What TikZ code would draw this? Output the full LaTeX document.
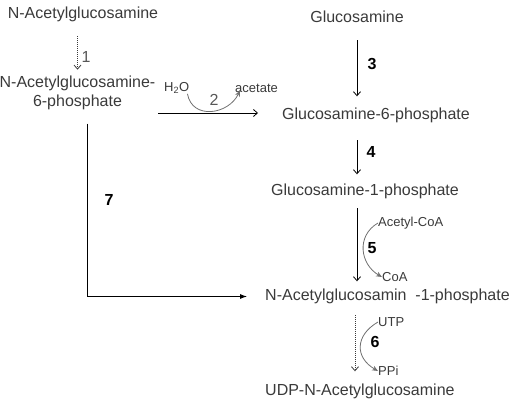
\documentclass[tikz,border=0pt]{standalone}
\usepackage{fontspec}
\setmainfont{Liberation Sans}
\usetikzlibrary{arrows.meta}
\definecolor{txtgray}{HTML}{3A3A3A}
\definecolor{curvegray}{HTML}{707070}
\tikzset{chem/.style={font=\fontsize{16}{19}\selectfont, text=txtgray, inner sep=0pt},
  compound/.style={chem, text height=11.5pt, text depth=3.5pt},
  cofactor/.style={font=\fontsize{13}{15}\selectfont, text=txtgray, inner sep=0pt, anchor=west},
  enzyme/.style={font=\fontsize{16}{18}\selectfont\bfseries, inner sep=0pt},
  weak/.style={font=\fontsize{16}{18}\selectfont, text=txtgray!85, inner sep=0pt},
  reaction/.style={-{Straight Barb[length=4pt,width=7pt]}, line width=0.8pt},
  slow/.style={reaction, draw=txtgray, dash pattern=on 1pt off 1pt},
  side/.style={-{Stealth[length=6pt,width=5pt]}, draw=curvegray, line width=0.8pt}}

\begin{document}
\begin{tikzpicture}[x=1pt,y=-1pt]
\useasboundingbox (0,0) rectangle (521,406);

% compounds
\node[compound] (glcnac) at (83,14.5) {N-Acetylglucosamine};
\node[chem, align=center] (glcnac6p) at (77.5,92.5) {N-Acetylglucosamine-\\6-phosphate};
\node[compound] (glcn) at (357,18.5) {Glucosamine};
\node[compound, anchor=west] (glcn6p) at (282,115.5) {Glucosamine-6-phosphate};
\node[compound, anchor=west] (glcn1p) at (271,191.5) {Glucosamine-1-phosphate};
\node[compound, anchor=west] (glcnac1p) at (265,296.5) {N-Acetylglucosamin\ \ -1-phosphate};
\node[compound, anchor=west] (udpglcnac) at (265,391.5) {UDP-N-Acetylglucosamine};

% cofactors
\node[cofactor] (h2o) at (164,88) {H\textsubscript{2}O};
\node[cofactor] (acetate) at (235,88) {acetate};
\node[cofactor] (acetylcoa) at (378,223) {Acetyl-CoA};
\node[cofactor] (coa) at (382,277) {CoA};
\node[cofactor] (utp) at (378,322) {UTP};
\node[cofactor] (ppi) at (378,371) {PPi};

% enzyme numbers
\node[weak] (n1) at (86,57) {1};
\node[weak] (n2) at (214,100) {2};
\node[enzyme] (n3) at (372,64) {3};
\node[enzyme] (n4) at (371,152) {4};
\node[enzyme] (n5) at (372,248) {5};
\node[enzyme] (n6) at (375,342) {6};
\node[enzyme] (n7) at (109,200) {7};

% reactions
\coordinate (s2) at (158,113);
\draw[slow, shorten <=14pt, shorten >=5.7pt] (glcnac6p.north |- glcnac.south) -- (glcnac6p.north);
\draw[reaction, shorten >=24pt] (s2) -- (s2 -| glcn6p.west);
\draw[side] ([xshift=-2pt]h2o.south east) to[out=-80,in=-115,looseness=1.3] ([xshift=5pt,yshift=2pt]acetate.south west);
\draw[reaction, shorten <=14pt, shorten >=11.5pt] (glcn.south) -- (glcn.south |- glcn6p.north);
\draw[reaction, shorten <=17pt, shorten >=9.5pt] (glcn.south |- glcn6p.south) -- (glcn.south |- glcn1p.north);
\draw[reaction, shorten <=9pt, shorten >=7.5pt] (glcn.south |- glcn1p.south) -- (glcn.south |- glcnac1p.north);
\draw[side] (acetylcoa.west) to[out=210,in=150,looseness=1.2] (coa.west);
\draw[slow, shorten <=11pt, shorten >=12.5pt] ([xshift=-2pt]glcn.south |- glcnac1p.south) -- ([xshift=-2pt]glcn.south |- udpglcnac.north);
\draw[side] (utp.west) to[out=210,in=150,looseness=1.4] (ppi.west);
\draw[-{Latex[length=7pt,width=5pt]}, line width=0.8pt, shorten <=14pt, shorten >=18pt] ([xshift=9.5pt]glcnac6p.south) |- (glcnac1p.west);
\end{tikzpicture}
\end{document}
